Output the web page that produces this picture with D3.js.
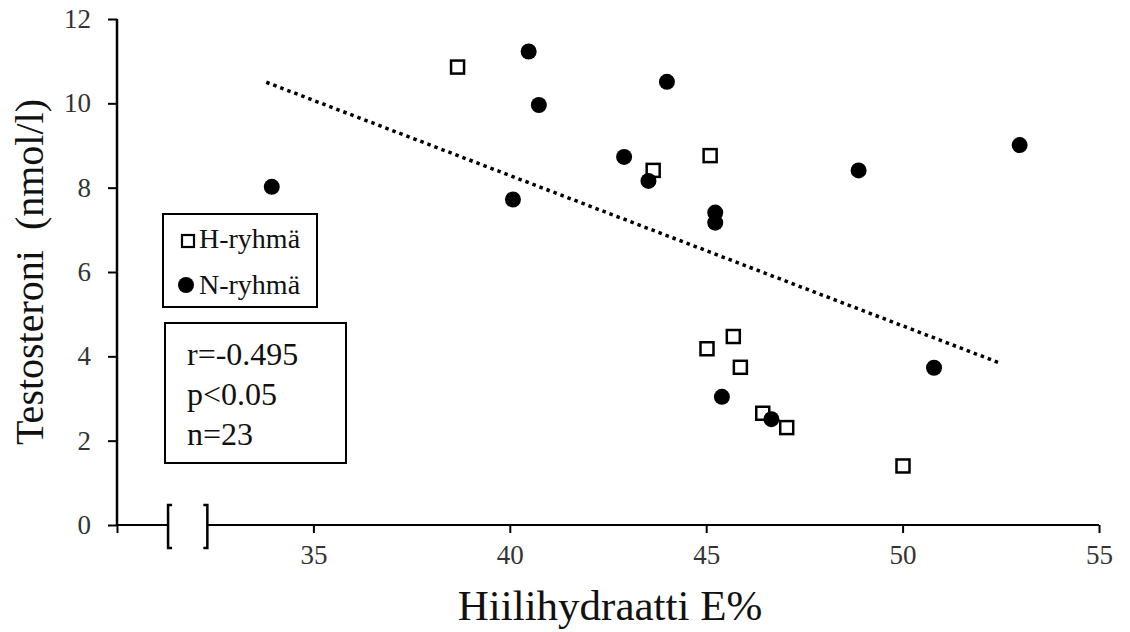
<!DOCTYPE html>
<html>
<head>
<meta charset="utf-8">
<script src="https://cdn.jsdelivr.net/npm/d3@7"></script>
<style>
  body { margin: 0; background: #fff; }
  svg text { font-family: "Liberation Serif", "Times New Roman", serif !important; }
</style>
</head>
<body>
<svg id="chart" width="1130" height="632"></svg>
<script>
// H-ryhmä (open squares)
const hX = [38.67, 43.65, 45.1, 45.02, 45.69, 45.87, 46.44, 47.05, 50.01];
const hY = [10.86, 8.41, 8.76, 4.18, 4.47, 3.74, 2.65, 2.31, 1.40];
// N-ryhmä (filled circles)
const nX = [33.94, 40.48, 40.74, 40.08, 44.0, 42.91, 43.53, 45.23, 45.23, 48.88, 52.98, 50.8, 45.4, 46.66];
const nY = [8.02, 11.23, 9.96, 7.72, 10.51, 8.73, 8.16, 7.41, 7.17, 8.41, 9.01, 3.73, 3.04, 2.51];
// linear trendline end points
const trendX = [33.8, 52.45];
const trendY = [10.5, 3.85];

const xTicks = [30, 35, 40, 45, 50, 55];
const yTicks = [0, 2, 4, 6, 8, 10, 12];
const axisBreak = [31.3, 32.3];

const legendLabels = ["H-ryhmä", "N-ryhmä"];
const statsLines = ["r=-0.495", "p<0.05", "n=23"];

const svg = d3.select("#chart");

const x = d3.scaleLinear().domain([30, 55]).range([117, 1099]);
const y = d3.scaleLinear().domain([0, 12]).range([525, 19]);

// x axis (ticks only, domain line drawn by hand because of the break)
const gx = svg.append("g")
    .attr("transform", "translate(0," + y(0) + ")")
    .call(d3.axisBottom(x).tickValues(xTicks).tickSize(8).tickPadding(12)
        .tickFormat(d => d == 30 ? "" : d));
gx.select(".domain").remove();
gx.selectAll(".tick line").attr("stroke", "#000").attr("stroke-width", 2);
gx.selectAll(".tick text").style("font-size", "27px").attr("fill", "#333");

svg.append("line")
    .attr("x1", x(30)).attr("x2", x(axisBreak[0]))
    .attr("y1", y(0)).attr("y2", y(0))
    .attr("stroke", "#000").attr("stroke-width", 2);
svg.append("line")
    .attr("x1", x(axisBreak[1])).attr("x2", x(55))
    .attr("y1", y(0)).attr("y2", y(0))
    .attr("stroke", "#000").attr("stroke-width", 2);

// the break brackets [ ]
const by0 = y(0) - 20, by1 = y(0) + 23;
svg.append("path")
    .attr("d", "M" + (x(axisBreak[0]) + 4) + "," + by0 + "H" + x(axisBreak[0]) + "V" + by1 + "H" + (x(axisBreak[0]) + 4))
    .attr("fill", "none").attr("stroke", "#000").attr("stroke-width", 2.5);
svg.append("path")
    .attr("d", "M" + (x(axisBreak[1]) - 4) + "," + by0 + "H" + x(axisBreak[1]) + "V" + by1 + "H" + (x(axisBreak[1]) - 4))
    .attr("fill", "none").attr("stroke", "#000").attr("stroke-width", 2.5);

// y axis
const gy = svg.append("g")
    .attr("transform", "translate(" + x(30) + ",0)")
    .call(d3.axisLeft(y).tickValues(yTicks).tickSize(9).tickPadding(17));
gy.select(".domain").attr("stroke", "#000").attr("stroke-width", 2.5)
    .attr("d", "M0," + y(12) + "V" + y(0));
gy.selectAll(".tick line").attr("stroke", "#000").attr("stroke-width", 2);
gy.selectAll(".tick text").style("font-size", "27px").attr("fill", "#333");

// axis titles
svg.append("text")
    .attr("x", (x(30) + x(55)) / 2 + 2)
    .attr("y", 620)
    .attr("text-anchor", "middle")
    .style("font-size", "43px")
    .attr("fill", "#111")
    .text("Hiilihydraatti E%");

svg.append("text")
    .attr("transform", "translate(43," + 272 + ") rotate(-90)")
    .attr("text-anchor", "middle")
    .style("font-size", "40px")
    .attr("fill", "#111")
    .style("white-space", "pre")
    .text("Testosteroni  (nmol/l)");

// trendline
svg.append("line")
    .attr("x1", x(trendX[0])).attr("y1", y(trendY[0]))
    .attr("x2", x(trendX[1])).attr("y2", y(trendY[1]))
    .attr("stroke", "#000").attr("stroke-width", 3.5)
    .attr("stroke-dasharray", "3.5,4");

// points
const hData = hX.map((v, i) => ({x: v, y: hY[i]}));
const nData = nX.map((v, i) => ({x: v, y: nY[i]}));

svg.selectAll("rect.h")
    .data(hData)
    .enter()
    .append("rect")
    .attr("class", "h")
    .attr("x", d => x(d.x) - 6.5)
    .attr("y", d => y(d.y) - 6.5)
    .attr("width", 13)
    .attr("height", 13)
    .attr("fill", "#fff")
    .attr("stroke", "#000")
    .attr("stroke-width", 2.5);

svg.selectAll("circle.n")
    .data(nData)
    .enter()
    .append("circle")
    .attr("class", "n")
    .attr("cx", d => x(d.x))
    .attr("cy", d => y(d.y))
    .attr("r", 8)
    .attr("fill", "#000");

// legend box
svg.append("rect")
    .attr("x", 163).attr("y", 214).attr("width", 154).attr("height", 93)
    .attr("fill", "#fff").attr("stroke", "#000").attr("stroke-width", 2);
svg.append("rect")
    .attr("x", 182).attr("y", 235).attr("width", 12).attr("height", 12)
    .attr("fill", "#fff").attr("stroke", "#000").attr("stroke-width", 2.2);
svg.append("circle")
    .attr("cx", 186).attr("cy", 285).attr("r", 8).attr("fill", "#000");
svg.selectAll("text.leg")
    .data(legendLabels)
    .enter()
    .append("text")
    .attr("class", "leg")
    .attr("x", 199)
    .attr("y", (d, i) => 248 + i * 46)
    .style("font-size", "28px")
    .attr("fill", "#111")
    .text(d => d);

// stats box
svg.append("rect")
    .attr("x", 165).attr("y", 323).attr("width", 181).attr("height", 140)
    .attr("fill", "#fff").attr("stroke", "#000").attr("stroke-width", 2);
svg.selectAll("text.stat")
    .data(statsLines)
    .enter()
    .append("text")
    .attr("class", "stat")
    .attr("x", 187)
    .attr("y", (d, i) => 365 + i * 40)
    .style("font-size", "32px")
    .attr("fill", "#111")
    .text(d => d);
</script>
</body>
</html>
